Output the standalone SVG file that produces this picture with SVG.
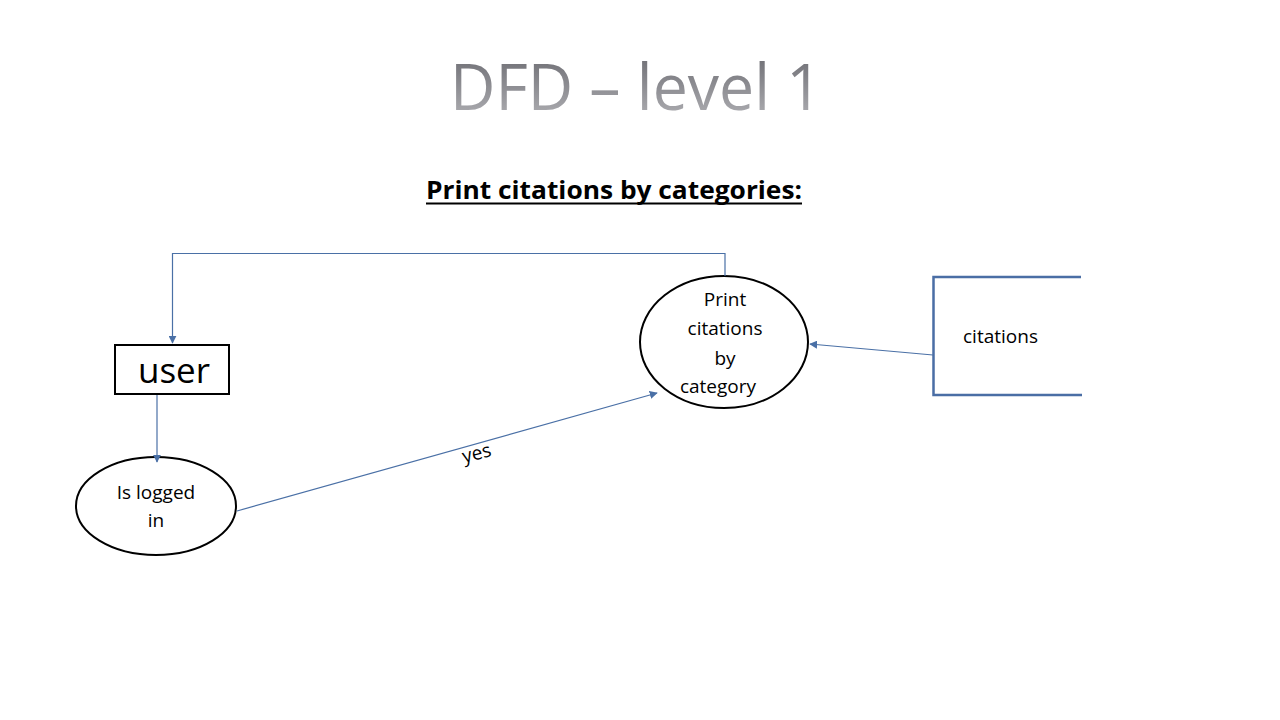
<svg xmlns="http://www.w3.org/2000/svg" width="1280" height="720" viewBox="0 0 1280 720">
<style>
.t{font-family:"Open Sans","Liberation Sans",sans-serif;fill:#000}
.c{fill:none;stroke:#4a70a6;stroke-width:1.2}
.n{fill:#fff;stroke:#000;stroke-width:2}
.ds{fill:none;stroke:#4a6ea5;stroke-width:2.5}
</style>
<defs>
<linearGradient id="g" x1="0" y1="0" x2="0" y2="1">
<stop offset="0" stop-color="#626268"/>
<stop offset="1" stop-color="#b8b8bc"/>
</linearGradient>
<marker id="a" viewBox="0 0 10 10" refX="9" refY="5" markerWidth="8" markerHeight="8" markerUnits="userSpaceOnUse" orient="auto">
<path d="M0,0L10,5L0,10z" fill="#4a70a6"/>
</marker>
</defs>
<rect width="1280" height="720" fill="#fff"/>
<text x="450" y="110" font-family="Open Sans,Liberation Sans,sans-serif" font-size="64" fill="url(#g)" textLength="372" lengthAdjust="spacingAndGlyphs">DFD – level 1</text>
<text x="426" y="199" font-family="Open Sans,Liberation Sans,sans-serif" font-weight="bold" font-size="25" textLength="376" lengthAdjust="spacingAndGlyphs">Print citations by categories:</text>
<line x1="426" y1="203.5" x2="802" y2="203.5" stroke="#000" stroke-width="2"/>
<g id="user">
<rect class="n" x="115" y="345" width="114" height="49" stroke-width="2.5"/>
<text class="t" x="174" y="383" text-anchor="middle" font-size="35">user</text>
</g>
<g id="isLoggedIn">
<ellipse class="n" cx="156" cy="506" rx="80" ry="49"/>
<text class="t" x="156" y="499" text-anchor="middle" font-size="19">Is logged</text>
<text class="t" x="156" y="527" text-anchor="middle" font-size="19">in</text>
</g>
<g id="printCitations">
<ellipse class="n" cx="724" cy="342" rx="84" ry="66"/>
<text class="t" x="725" y="306" text-anchor="middle" font-size="19">Print</text>
<text class="t" x="725" y="335" text-anchor="middle" font-size="19">citations</text>
<text class="t" x="725" y="365" text-anchor="middle" font-size="19">by</text>
<text class="t" x="718" y="393" text-anchor="middle" font-size="19">category</text>
</g>
<g id="citationsStore">
<polyline class="ds" points="1081,277 933.5,277 933.5,395 1082,395"/>
<text class="t" x="963" y="343" font-size="19">citations</text>
</g>
<g id="connectors">
<polyline class="c" points="725,276 725,253.5 172.5,253.5 172.5,343" marker-end="url(#a)"/>
<line class="c" x1="157" y1="395" x2="157" y2="462" marker-end="url(#a)"/>
<line class="c" x1="237" y1="511" x2="657" y2="393" marker-end="url(#a)"/>
<line class="c" x1="933" y1="355" x2="810" y2="344" marker-end="url(#a)"/>
<text class="t" x="0" y="0" font-size="19" transform="translate(464,463) rotate(-14)">yes</text>
</g>
</svg>
